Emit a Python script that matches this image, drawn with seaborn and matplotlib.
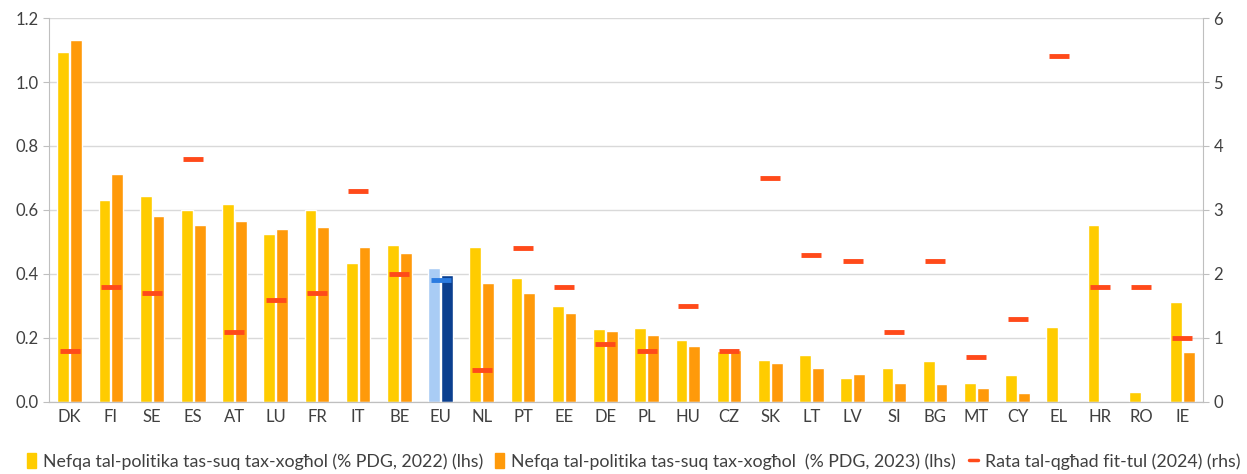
import matplotlib
matplotlib.use("Agg")
import matplotlib.pyplot as plt
import numpy as np
import pandas as pd
import seaborn as sns
from matplotlib.patches import Patch
from matplotlib.lines import Line2D

countries = ["DK", "FI", "SE", "ES", "AT", "LU", "FR", "IT", "BE", "EU", "NL", "PT", "EE", "DE",
             "PL", "HU", "CZ", "SK", "LT", "LV", "SI", "BG", "MT", "CY", "EL", "HR", "RO", "IE"]
spend_2022 = [1.094, 0.632, 0.644, 0.600, 0.620, 0.526, 0.600, 0.435, 0.491, 0.420, 0.483, 0.387, 0.299, 0.227,
              0.230, 0.193, 0.159, 0.131, 0.147, 0.075, 0.106, 0.128, 0.059, 0.084, 0.234, 0.553, 0.031, 0.313]
spend_2023 = [1.130, 0.713, 0.582, 0.553, 0.567, 0.539, 0.548, 0.484, 0.467, 0.396, 0.371, 0.340, 0.277, 0.221,
              0.209, 0.174, 0.162, 0.122, 0.106, 0.087, 0.059, 0.056, 0.044, 0.028, 0.0, 0.0, 0.0, 0.156]
unemp_2024 = [0.8, 1.8, 1.7, 3.8, 1.1, 1.6, 1.7, 3.3, 2.0, 1.9, 0.5, 2.4, 1.8, 0.9,
              0.8, 1.5, 0.8, 3.5, 2.3, 2.2, 1.1, 2.2, 0.7, 1.3, 5.4, 1.8, 1.8, 1.0]

lab_2022 = "Nefqa tal-politika tas-suq tax-xogħol (% PDG, 2022) (lhs)"
lab_2023 = "Nefqa tal-politika tas-suq tax-xogħol  (% PDG, 2023) (lhs)"
lab_rate = "Rata tal-qgħad fit-tul (2024) (rhs)"

YELLOW = "#FFCC00"
ORANGE = "#FF9A0A"
RED = "#FF4A1A"
EU_LIGHT = "#A9CCF5"
EU_DARK = "#0B3F8F"
EU_MARK = "#2B7BE0"
GREY = "#404040"

sns.set_style("white")
plt.rcParams["font.family"] = ["Lato", "DejaVu Sans"]

df = pd.DataFrame({"country": countries * 2,
                   "value": spend_2022 + spend_2023,
                   "year": ["2022"] * len(countries) + ["2023"] * len(countries)})

fig = plt.figure(figsize=(12.47, 4.74), dpi=100)
ax = fig.add_axes([0.0393, 0.152, 0.9254, 0.810])

sns.barplot(data=df, x="country", y="value", hue="year", palette=[YELLOW, ORANGE],
            width=0.62, gap=0.08, saturation=1, legend=False, ax=ax)

# EU bars in blue
eu_i = countries.index("EU")
ax.containers[0][eu_i].set_facecolor(EU_LIGHT)
ax.containers[1][eu_i].set_facecolor(EU_DARK)

ax.set_ylim(0, 1.2)
ax.set_xlim(-0.5, len(countries) - 0.5)
ax.set_yticks(np.arange(0, 1.21, 0.2))
ax.set_yticklabels([f"{v:.1f}" for v in np.arange(0, 1.21, 0.2)])
ax.grid(axis="y", color="#D9D9D9", linewidth=1)
ax.set_axisbelow(True)
ax.set_xlabel("")
ax.set_ylabel("")

ax2 = ax.twinx()
mark_group = ["EU" if c == "EU" else "other" for c in countries]
sns.pointplot(x=countries, y=unemp_2024, hue=mark_group, palette={"EU": EU_MARK, "other": RED},
              markers="_", linestyle="none", markersize=15, markeredgewidth=3.5,
              legend=False, ax=ax2)
ax2.set_ylim(0, 6)
ax2.set_yticks(range(0, 7))
ax2.set_xlim(-0.5, len(countries) - 0.5)
ax2.set_ylabel("")

for a in (ax, ax2):
    a.spines["top"].set_visible(False)
    for s in ("left", "right", "bottom"):
        a.spines[s].set_color("#BFBFBF")
    a.tick_params(colors="#BFBFBF", labelcolor=GREY, labelsize=12)
ax.spines["right"].set_visible(False)
ax2.spines["left"].set_visible(False)

# category separators on x axis
ax.set_xticks(np.arange(-0.5, len(countries), 1), minor=True)
ax.tick_params(axis="x", which="major", length=0, pad=5)
ax.tick_params(axis="x", which="minor", length=5, color="#BFBFBF")
ax.tick_params(axis="y", length=4, direction="out")
ax2.tick_params(axis="y", length=4, direction="out")
ax2.tick_params(axis="x", length=0)

handles = [Patch(color=YELLOW, label=lab_2022),
           Patch(color=ORANGE, label=lab_2023),
           Line2D([], [], color=RED, linewidth=2.5, label=lab_rate)]
fig.legend(handles=handles, loc="lower center", bbox_to_anchor=(0.508, -0.025), ncol=3,
           frameon=False, fontsize=12.8, handlelength=0.5, handleheight=0.9,
           handletextpad=0.4, columnspacing=0.7, labelcolor=GREY)

fig.savefig("out.png", dpi=100)
